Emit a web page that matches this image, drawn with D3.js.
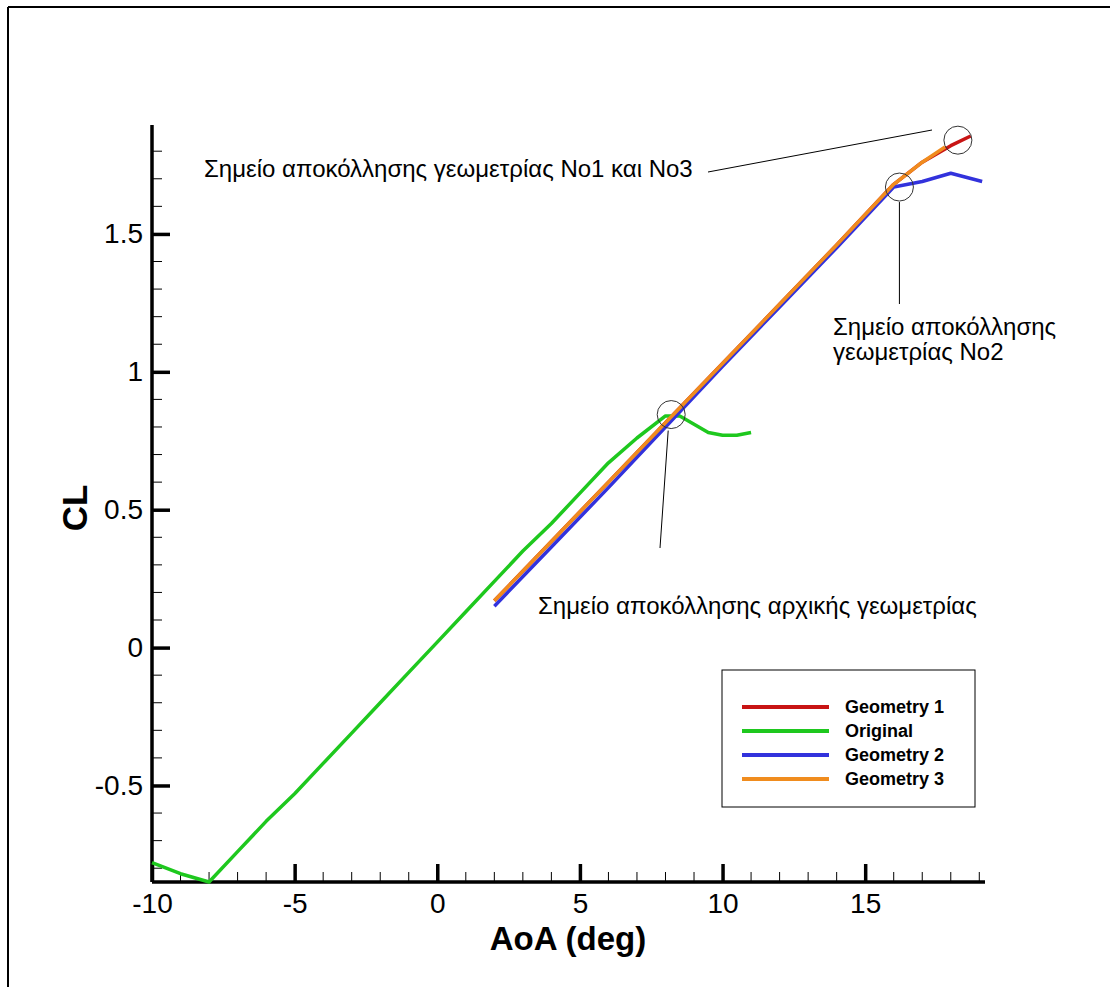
<!DOCTYPE html>
<html><head><meta charset="utf-8">
<script src="https://cdn.jsdelivr.net/npm/d3@7"></script>
<style>body{margin:0;background:#fff}svg{display:block}</style>
</head><body>
<script>
const xTicks = [-10, -5, 0, 5, 10, 15];
const yTicks = [-0.5, 0, 0.5, 1, 1.5];
const seriesNames = ["Geometry 1", "Original", "Geometry 2", "Geometry 3"];
const seriesColors = ["#c81414", "#1ec81e", "#3232dc", "#f08c1e"];

const originalAoA = [-10, -9, -8, -7, -6, -5, -4, -3, -2, -1, 0, 1, 2, 3, 4, 5, 6, 7, 8, 8.5, 9, 9.5, 10, 10.5, 11];
const originalCL  = [-0.78, -0.82, -0.85, -0.74, -0.63, -0.53, -0.42, -0.31, -0.20, -0.09, 0.02, 0.13, 0.24, 0.35, 0.45, 0.56, 0.67, 0.76, 0.84, 0.84, 0.81, 0.78, 0.77, 0.77, 0.78];

const geom1AoA = [2, 4, 6, 8, 10, 12, 14, 16, 17, 18, 18.7];
const geom1CL  = [0.17, 0.385, 0.60, 0.815, 1.03, 1.245, 1.46, 1.68, 1.76, 1.82, 1.855];

const geom2AoA = [2, 4, 6, 8, 10, 12, 14, 16, 17, 18, 19.1];
const geom2CL  = [0.15, 0.365, 0.58, 0.80, 1.02, 1.235, 1.45, 1.67, 1.69, 1.72, 1.69];

const geom3AoA = [2, 4, 6, 8, 10, 12, 14, 16, 17, 17.8];
const geom3CL  = [0.17, 0.385, 0.60, 0.815, 1.03, 1.245, 1.46, 1.68, 1.76, 1.815];

const W = 1110, H = 987;
const svg = d3.select("body").append("svg").attr("width", W).attr("height", H);
svg.append("rect").attr("width", W).attr("height", H).attr("fill", "#fff");
// frame
svg.append("line").attr("x1", 8).attr("y1", 7).attr("x2", W).attr("y2", 7).attr("stroke", "#000").attr("stroke-width", 2);
svg.append("line").attr("x1", 8).attr("y1", 7).attr("x2", 8).attr("y2", H).attr("stroke", "#000").attr("stroke-width", 2);

const x = d3.scaleLinear().domain([-10, 19.2]).range([152, 985]);
const y = d3.scaleLinear().domain([-0.85, 1.895]).range([882, 125]);

const font = "Arial, 'Liberation Sans', sans-serif";

// minor ticks
const xMinor = d3.range(-9, 20, 1).filter(v => v % 5 !== 0);
const yMinor = d3.range(-8, 19, 1).map(v => v / 10).filter(v => Math.abs(Math.round(v * 10) % 5) !== 0);
const g = svg.append("g");
g.selectAll(".xm").data(xMinor).enter().append("line")
  .attr("x1", d => x(d)).attr("x2", d => x(d)).attr("y1", 882).attr("y2", 872)
  .attr("stroke", "#000").attr("stroke-width", 1);
g.selectAll(".ym").data(yMinor).enter().append("line")
  .attr("y1", d => y(d)).attr("y2", d => y(d)).attr("x1", 152).attr("x2", 162)
  .attr("stroke", "#000").attr("stroke-width", 1);

// axes
const xAxis = d3.axisBottom(x).tickValues(xTicks).tickSize(-18).tickPadding(12).tickFormat(d => d < 0 ? "-" + Math.abs(d) : String(d));
const gx = svg.append("g").attr("transform", "translate(0,882)").call(xAxis);
gx.select(".domain").attr("stroke-width", 3.5).attr("d", `M152,0H985`);
gx.selectAll(".tick line").attr("stroke-width", 3.5);
gx.selectAll(".tick text").attr("font-family", font).attr("font-size", 28).attr("fill", "#000")
  .attr("y", 31).attr("dy", null);

const yAxis = d3.axisLeft(y).tickValues(yTicks).tickSize(-18).tickPadding(9).tickFormat(d => d < 0 ? "-" + String(Math.abs(d)) : String(d));
const gy = svg.append("g").attr("transform", "translate(152,0)").call(yAxis);
gy.select(".domain").attr("stroke-width", 3.5).attr("d", `M0,882V125`);
gy.selectAll(".tick line").attr("stroke-width", 3.5);
gy.selectAll(".tick text").attr("font-family", font).attr("font-size", 28).attr("fill", "#000");

// axis titles
svg.append("text").attr("x", 568).attr("y", 950).attr("text-anchor", "middle")
  .attr("font-family", font).attr("font-weight", "bold").attr("font-size", 33).text("AoA (deg)");
svg.append("text").attr("transform", "translate(87,508) rotate(-90)").attr("text-anchor", "middle")
  .attr("font-family", font).attr("font-weight", "bold").attr("font-size", 35).text("CL");

// series
const line = d3.line().x(d => x(d[0])).y(d => y(d[1]));
const zip = (a, b) => a.map((v, i) => [v, b[i]]);
const series = [
  {data: zip(geom1AoA, geom1CL), c: seriesColors[0]},
  {data: zip(originalAoA, originalCL), c: seriesColors[1]},
  {data: zip(geom2AoA, geom2CL), c: seriesColors[2]},
  {data: zip(geom3AoA, geom3CL), c: seriesColors[3]}
];
const plot = svg.append("g");
series.forEach(s => {
  plot.append("path").attr("d", line(s.data)).attr("fill", "none")
    .attr("stroke", s.c).attr("stroke-width", 3.5).attr("stroke-linejoin", "round");
});

// annotations
const ann = svg.append("g").attr("font-family", font).attr("font-size", 24).attr("fill", "#000");
ann.append("text").attr("x", 204).attr("y", 177).text("Σημείο αποκόλλησης γεωμετρίας No1 και No3");
ann.append("text").attr("x", 833).attr("y", 335).text("Σημείο αποκόλλησης");
ann.append("text").attr("x", 833).attr("y", 360).text("γεωμετρίας No2");
ann.append("text").attr("x", 538).attr("y", 614).text("Σημείο αποκόλλησης αρχικής γεωμετρίας");

const circ = [[18.25, 1.84], [16.2, 1.67], [8.2, 0.845]];
svg.selectAll(".circ").data(circ).enter().append("circle")
  .attr("cx", d => x(d[0])).attr("cy", d => y(d[1])).attr("r", 14)
  .attr("fill", "none").attr("stroke", "#333").attr("stroke-width", 1);
svg.append("line").attr("x1", 708).attr("y1", 172).attr("x2", 932).attr("y2", 130).attr("stroke", "#000").attr("stroke-width", 1);
svg.append("line").attr("x1", x(16.2)).attr("y1", y(1.67) + 15).attr("x2", x(16.2)).attr("y2", 304).attr("stroke", "#000").attr("stroke-width", 1);
svg.append("line").attr("x1", x(8.2) - 3).attr("y1", y(0.845) + 16).attr("x2", 660).attr("y2", 548).attr("stroke", "#000").attr("stroke-width", 1);

// legend
const lg = svg.append("g");
lg.append("rect").attr("x", 722).attr("y", 670).attr("width", 253).attr("height", 137)
  .attr("fill", "#fff").attr("stroke", "#000").attr("stroke-width", 1);
seriesNames.forEach((n, i) => {
  const yy = 707 + i * 24;
  lg.append("line").attr("x1", 742).attr("x2", 829).attr("y1", yy).attr("y2", yy)
    .attr("stroke", seriesColors[i]).attr("stroke-width", 4);
  lg.append("text").attr("x", 845).attr("y", yy + 6).attr("font-family", font)
    .attr("font-weight", "bold").attr("font-size", 18).text(n);
});
</script>
</body></html>
